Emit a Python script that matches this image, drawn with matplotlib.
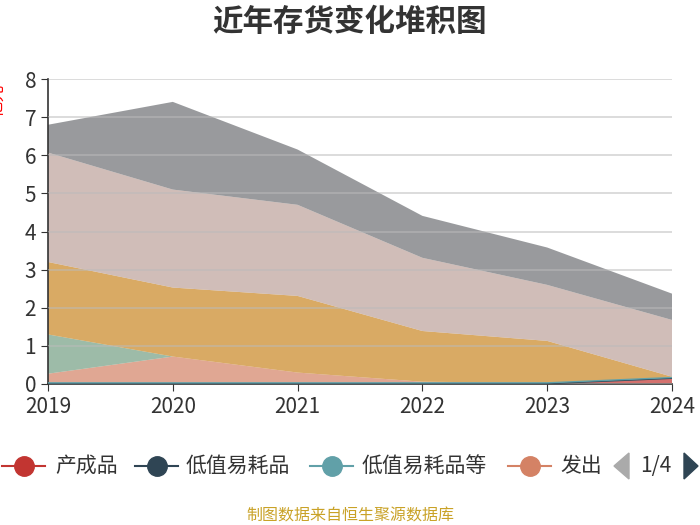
"""
Stacked area chart of inventory composition over recent years.
Saves out.png (700x525).
"""
import numpy as np
import matplotlib

matplotlib.use("Agg")
import matplotlib.pyplot as plt
from matplotlib.lines import Line2D
from matplotlib.patches import Polygon

plt.rcParams["font.family"] = ["Noto Sans CJK SC", "DejaVu Sans"]

years = [2019, 2020, 2021, 2022, 2023, 2024]

# stacked bottom -> top (亿元)
finished = [0.0, 0.0, 0.0, 0.0, 0.0, 0.14]          # 产成品
low_value = [0.01, 0.01, 0.01, 0.01, 0.01, 0.01]    # 低值易耗品
low_value_etc = [0.02, 0.02, 0.02, 0.02, 0.02, 0.02]  # 低值易耗品等
shipped = [0.24, 0.69, 0.27, 0.03, 0.0, 0.0]        # 发出商品
series5 = [1.03, 0.0, 0.0, 0.0, 0.0, 0.0]
series6 = [1.90, 1.81, 2.01, 1.33, 1.10, 0.02]
series7 = [2.87, 2.57, 2.39, 1.92, 1.47, 1.49]
series8 = [0.73, 2.30, 1.45, 1.10, 0.98, 0.69]

colors = ["#c23531", "#2f4554", "#61a0a8", "#d48265", "#749f83",
          "#ca8622", "#bda29a", "#6e7074"]
legend_names = ["产成品", "低值易耗品", "低值易耗品等", "发出"]

stack = [finished, low_value, low_value_etc, shipped, series5, series6, series7, series8]

fig = plt.figure(figsize=(7, 5.25), dpi=100)
ax = fig.add_axes([48 / 700, 141 / 525, 624 / 700, 305 / 525])

ax.stackplot(years, *stack, colors=colors, alpha=0.7, linewidth=0)
cum = np.cumsum(np.array(stack), axis=0)
ax.plot(years, cum[1], color=colors[1], lw=1, zorder=3)
ax.plot(years, cum[2], color=colors[2], lw=1, zorder=3)

ax.set_xlim(2019, 2024)
ax.set_ylim(0, 8)
ax.set_xticks(years)
ax.set_yticks(range(0, 9))
ax.tick_params(labelsize=15, colors="#333333", length=5)
ax.grid(axis="y", color="#bbbbbb", alpha=0.6, lw=1.2, zorder=4)
ax.set_axisbelow(False)
for s in ["top", "right"]:
    ax.spines[s].set_visible(False)
for s in ["left", "bottom"]:
    ax.spines[s].set_color("#333333")
    ax.spines[s].set_linewidth(1.2)

# y-axis unit label, mostly clipped at the left edge as in the source
fig.text(-0.002, 1 - 100 / 525, "亿元", rotation=90, color="red", fontsize=12,
         ha="center", va="center")

fig.text(0.5, 1 - 22 / 525, "近年存货变化堆积图", ha="center", va="center",
         fontsize=22, fontweight="bold", color="#333333")

# legend (page 1/4): (line start px, text start px)
leg_y = 1 - 466 / 525
items = [(2, 55), (135, 186), (310, 362), (508, 560)]
for (x0, tx), c, name in zip(items, colors[:4], legend_names):
    fig.add_artist(Line2D([x0 / 700, (x0 + 43) / 700], [leg_y, leg_y], color=c, lw=1.5))
    fig.add_artist(Line2D([(x0 + 21.5) / 700], [leg_y], marker="o", ms=14, color=c))
    fig.text(tx / 700, leg_y, name, fontsize=15, color="#333333", va="center")

fig.add_artist(Polygon([[614 / 700, leg_y], [629 / 700, leg_y + 13 / 525],
                        [629 / 700, leg_y - 13 / 525]], closed=True, color="#aaaaaa"))
fig.text(656 / 700, leg_y, "1/4", fontsize=15, color="#333333", ha="center", va="center")
fig.add_artist(Polygon([[698 / 700, leg_y], [684 / 700, leg_y + 13 / 525],
                        [684 / 700, leg_y - 13 / 525]], closed=True, color="#2f4554"))

fig.text(0.5, 1 - 516 / 525, "制图数据来自恒生聚源数据库", ha="center", va="center",
         fontsize=11.5, color="#c9a227")

fig.savefig("out.png", dpi=100)
